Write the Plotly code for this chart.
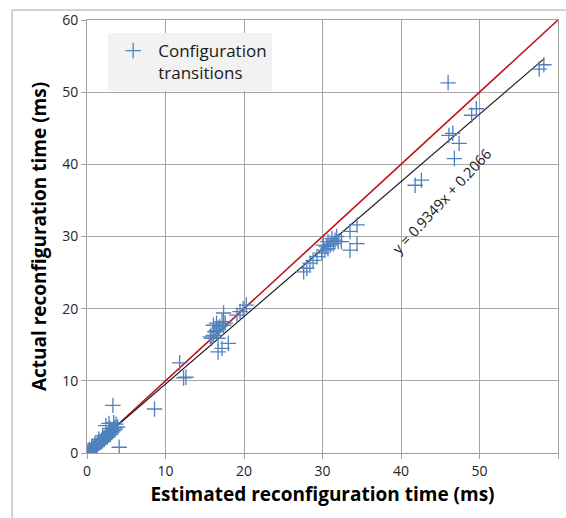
import plotly.graph_objects as go

# Estimated vs actual reconfiguration time (ms)
est = [0.0, 0.1, 0.2, 0.3, 0.4, 0.5, 0.6, 0.7, 0.8, 0.9, 1.0, 1.1, 1.2, 1.3, 1.4, 1.5, 1.6, 1.7,
       1.8, 1.9, 2.0, 2.1, 2.2, 2.3, 2.4, 2.5, 2.6, 2.7, 2.8, 2.9, 3.0, 3.1, 3.2, 3.3, 3.4, 3.5,
       3.6, 2.4, 2.9, 3.4, 3.7, 3.3, 4.1, 0.3, 0.6, 1.0, 1.5, 2.0, 2.8, 3.9,
       8.6,
       11.8, 12.3, 12.6, 15.7, 16.1, 16.3, 16.5, 16.7, 16.9, 17.4, 17.6, 16.1, 16.5, 17.2, 16.7,
       15.9, 17.4, 16.7, 17.2, 18.0, 19.1, 19.5, 19.9, 20.3,
       27.6, 28.0, 28.4, 28.8, 29.3, 29.9, 30.3, 30.5, 31.0, 30.7, 31.4, 31.6, 32.0, 31.2, 30.1,
       32.4, 31.8, 30.7, 33.5, 34.4, 33.5, 34.4,
       41.8, 42.6, 46.1, 46.6, 47.4, 46.8, 49.0, 49.6, 46.0, 57.6, 58.2]
act = [0.0, 0.1, 0.0, 0.2, 0.3, 0.4, 0.5, 0.6, 0.7, 0.8, 0.9, 1.0, 1.1, 1.0, 1.3, 1.4, 1.4, 1.6,
       1.5, 1.8, 1.7, 2.0, 1.9, 2.2, 2.1, 2.4, 2.2, 2.6, 2.5, 2.8, 2.6, 3.0, 2.9, 3.2, 3.1, 3.5,
       3.3, 3.8, 3.4, 4.2, 4.0, 6.6, 0.8, 0.5, 0.9, 1.3, 1.9, 2.4, 4.1, 3.6,
       6.1,
       12.5, 10.4, 10.5, 16.1, 16.3, 16.8, 17.0, 17.3, 17.5, 17.7, 18.0, 17.7, 18.0, 18.2, 15.9,
       15.9, 19.4, 14.0, 14.5, 15.2, 19.1, 19.6, 20.0, 20.5,
       25.1, 25.6, 26.3, 26.7, 27.2, 27.7, 28.1, 28.6, 28.8, 29.3, 29.0, 29.5, 29.3, 29.7, 28.8,
       29.3, 30.0, 28.3, 30.7, 31.6, 28.1, 29.0,
       37.1, 37.8, 44.0, 44.3, 42.9, 40.8, 46.8, 47.7, 51.3, 53.2, 53.8]

fit_slope = 0.9349
fit_intercept = 0.2066
axis_range = [0, 60]
tick_vals = [0, 10, 20, 30, 40, 50, 60]

font_family = "'Open Sans', Lato, sans-serif"

fig = go.Figure()

# y = x reference line
fig.add_trace(go.Scatter(x=axis_range, y=axis_range, mode="lines",
                         line=dict(color="#c0121b", width=1.6),
                         showlegend=False, hoverinfo="skip"))

# linear trendline
fx = [0, max(est)]
fy = [fit_slope * v + fit_intercept for v in fx]
fig.add_trace(go.Scatter(x=fx, y=fy, mode="lines",
                         line=dict(color="#1a1a1a", width=1.2),
                         showlegend=False, hoverinfo="skip"))

fig.add_trace(go.Scatter(x=est, y=act, mode="markers", name="Configuration<br>transitions",
                         marker=dict(symbol="cross-thin", size=11, color="#4f81bd",
                                     line=dict(color="#4f81bd", width=1.3))))

axis_common = dict(range=axis_range, tickvals=tick_vals, showgrid=True,
                   gridcolor="#a6a6a6", gridwidth=1, showline=True, linecolor="#a0a0a0",
                   linewidth=1, mirror=True, ticks="outside", ticklen=5, tickcolor="#a0a0a0",
                   zeroline=False, tickfont=dict(family=font_family, size=14, color="#262626"))

fig.update_xaxes(**axis_common,
                 title=dict(text="Estimated reconfiguration time (ms)", standoff=8,
                            font=dict(family=font_family, size=19, color="#000000", weight="bold")))
fig.update_yaxes(**axis_common,
                 title=dict(text="Actual reconfiguration time (ms)", standoff=10,
                            font=dict(family=font_family, size=19, color="#000000", weight="bold")))

fig.add_annotation(x=45.1, y=34.9, xref="x", yref="y", text="y = 0.9349x + 0.2066",
                   showarrow=False, textangle=-47,
                   font=dict(family=font_family, size=14.5, color="#1a1a1a"))

# outer chart-area frame
fig.add_shape(type="rect", xref="paper", yref="paper", x0=-0.159, x1=1.3, y0=-0.4, y1=1.023,
              line=dict(color="#a6a6a6", width=1), fillcolor="rgba(0,0,0,0)", layer="below")

fig.update_layout(
    width=566, height=518,
    margin=dict(l=87, r=8, t=20, b=65),
    paper_bgcolor="white", plot_bgcolor="white",
    legend=dict(x=0.045, y=0.97, xanchor="left", yanchor="top", bgcolor="#f2f2f2",
                borderwidth=0, font=dict(family=font_family, size=17, color="#1a1a1a"),
                itemwidth=40, valign="top"),
)

fig.write_html("out.html")
